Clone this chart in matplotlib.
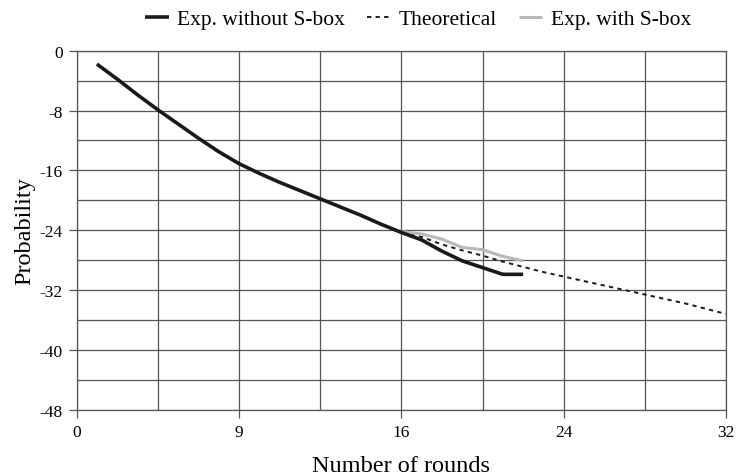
import matplotlib
matplotlib.use("Agg")
import matplotlib.pyplot as plt
from matplotlib.ticker import MultipleLocator

plt.rcParams['font.family'] = ['Liberation Serif', 'DejaVu Serif']
plt.rcParams['axes.unicode_minus'] = False

# Data (log2 probability per number of rounds)
rounds_exp = list(range(1, 23))
exp_without = [-1.8, -3.8, -5.9, -7.9, -9.8, -11.7, -13.5, -15.1, -16.4, -17.6, -18.7,
               -19.8, -20.9, -22.0, -23.2, -24.3, -25.3, -26.8, -28.1, -29.0, -29.9, -29.9]

rounds_theo = list(range(1, 33))
theoretical = [-1.8, -3.8, -5.9, -7.9, -9.8, -11.7, -13.6, -15.1, -16.4, -17.6, -18.7,
               -19.8, -20.9, -22.0, -23.2, -24.3, -24.9, -25.9, -26.7, -27.4, -28.2, -28.9,
               -29.6, -30.2, -30.8, -31.4, -32.0, -32.6, -33.2, -33.8, -34.5, -35.2]

rounds_sbox = list(range(16, 23))
exp_with = [-24.2, -24.5, -25.2, -26.3, -26.6, -27.5, -28.1]

xtick_pos = [0, 8, 16, 24, 32]
xtick_labels = ["0", "9", "16", "24", "32"]
ytick_pos = [0, -8, -16, -24, -32, -40, -48]

fig = plt.figure(figsize=(7.36, 4.77), dpi=100)
ax = fig.add_axes([0.1042, 0.139, 0.9864 - 0.1042, 0.8916 - 0.139])

l_theo, = ax.plot(rounds_theo, theoretical, color='#1a1a1a', lw=1.4,
                  linestyle=(0, (2.2, 2.2)), label='Theoretical', zorder=3)
l_with, = ax.plot(rounds_sbox, exp_with, color='#b8b8b8', lw=2.2,
                  label='Exp. with S-box', zorder=4, solid_capstyle='butt')
l_wo, = ax.plot(rounds_exp, exp_without, color='#1a1a1a', lw=2.6,
                label='Exp. without S-box', zorder=5, solid_capstyle='butt')

ax.set_xlim(0, 32)
ax.set_ylim(-48, 0)
ax.set_xticks(xtick_pos)
ax.set_xticklabels(xtick_labels)
ax.set_yticks(ytick_pos)
ax.xaxis.set_minor_locator(MultipleLocator(4))
ax.yaxis.set_minor_locator(MultipleLocator(4))
ax.grid(True, which='both', color='#555555', lw=0.9)
ax.set_axisbelow(True)
ax.tick_params(axis='both', which='major', direction='out', length=6, width=0.9,
               color='#555555', labelsize=12.5, pad=4)
ax.tick_params(axis='both', which='minor', length=0)
for s in ax.spines.values():
    s.set_color('#555555')
    s.set_linewidth(0.9)

ax.set_xlabel('Number of rounds', fontsize=17.5, labelpad=11)
ax.set_ylabel('Probability', fontsize=17.5, labelpad=3)

fig.legend(handles=[l_wo, l_theo, l_with],
           labels=['Exp. without S-box', 'Theoretical', 'Exp. with S-box'],
           loc='center', bbox_to_anchor=(0.568, 0.958), ncol=3, frameon=False,
           fontsize=15.5, handlelength=1.1, handletextpad=0.4, columnspacing=1.0,
           borderpad=0)

fig.savefig('out.png', dpi=100)
